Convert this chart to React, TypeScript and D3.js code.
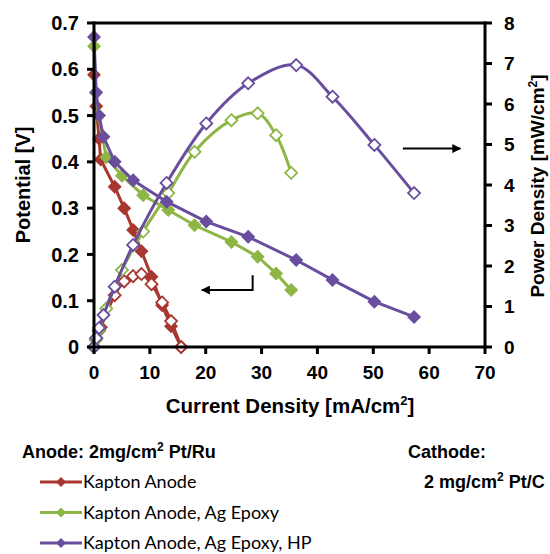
import React from "react";
import * as d3 from "d3";

// Kapton Anode
const redI = [0, 0.4, 0.9, 1.2, 3.7, 5.4, 7.0, 8.5, 10.3, 12.2, 13.8, 15.6];
const redV = [0.588, 0.52, 0.45, 0.405, 0.346, 0.30, 0.253, 0.207, 0.152, 0.09, 0.045, 0.0];
const redP = [0, 0.21, 0.4, 0.49, 1.28, 1.62, 1.75, 1.8, 1.55, 1.1, 0.64, 0];

// Kapton Anode, Ag Epoxy
const greenI = [0, 0.3, 0.8, 2.2, 5.0, 8.8, 13.3, 18.0, 24.6, 29.3, 32.6, 35.3];
const greenV = [0.65, 0.55, 0.50, 0.41, 0.37, 0.328, 0.296, 0.263, 0.227, 0.195, 0.159, 0.123];
const greenP = [0, 0.17, 0.4, 0.95, 1.9, 2.85, 3.8, 4.82, 5.6, 5.77, 5.23, 4.3];

// Kapton Anode, Ag Epoxy, HP
const purpleI = [0, 0.4, 0.9, 1.7, 3.7, 7.0, 13.0, 20.1, 27.6, 36.2, 42.7, 50.2, 57.3];
const purpleV = [0.67, 0.55, 0.5, 0.454, 0.4, 0.36, 0.314, 0.271, 0.238, 0.188, 0.145, 0.098, 0.065];
const purpleP = [0, 0.22, 0.47, 0.79, 1.49, 2.52, 4.05, 5.52, 6.51, 6.96, 6.18, 4.99, 3.8];

const xTicks = [0, 10, 20, 30, 40, 50, 60, 70];
const yLeftTicks = [0, 0.1, 0.2, 0.3, 0.4, 0.5, 0.6, 0.7];
const yRightTicks = [0, 1, 2, 3, 4, 5, 6, 7, 8];

const legendLabels = ["Kapton Anode", "Kapton Anode, Ag Epoxy", "Kapton Anode, Ag Epoxy, HP"];
const colors = ["#A8372F", "#8DB646", "#6A4E9E"];

const series = [
  { I: redI, V: redV, P: redP },
  { I: greenI, V: greenV, P: greenP },
  { I: purpleI, V: purpleV, P: purpleP },
];

const W = 550, H = 554;
const left = 94, right = 485, top = 23, bottom = 347;

const x = d3.scaleLinear().domain([0, 70]).range([left, right]);
const yL = d3.scaleLinear().domain([0, 0.7]).range([bottom, top]);
const yR = d3.scaleLinear().domain([0, 8]).range([bottom, top]);

const diamond = (r: number) => `M0,${-r}L${r},0L0,${r}L${-r},0Z`;
const bold = "'Liberation Sans', Arial, sans-serif";
const legendFont = "Lato, 'Open Sans', sans-serif";

export default function App() {
  const lineV = d3.line<[number, number]>().x(d => x(d[0])).y(d => yL(d[1]));
  const lineP = d3.line<[number, number]>().x(d => x(d[0])).y(d => yR(d[1])).curve(d3.curveCatmullRom.alpha(0.5));

  return (
    <svg width={W} height={H} style={{ position: "absolute", left: 0, top: 0, background: "#fff" }}>
      {series.map((s, k) => {
        const vPts = s.I.map((v, i) => [v, s.V[i]] as [number, number]);
        const pPts = s.I.map((v, i) => [v, s.P[i]] as [number, number]);
        return (
          <g key={k}>
            <path d={lineV(vPts) || ""} fill="none" stroke={colors[k]} strokeWidth={3} />
            {vPts.map((p, i) => (
              <path key={"v" + i} d={diamond(7)} transform={`translate(${x(p[0])},${yL(p[1])})`} fill={colors[k]} />
            ))}
            <path d={lineP(pPts) || ""} fill="none" stroke={colors[k]} strokeWidth={3} />
            {pPts.map((p, i) => (
              <path key={"p" + i} d={diamond(6)} transform={`translate(${x(p[0])},${yR(p[1])})`} fill="#fff" stroke={colors[k]} strokeWidth={1.8} />
            ))}
          </g>
        );
      })}

      {/* frame */}
      <line x1={left} x2={right} y1={top} y2={top} stroke="#000" strokeWidth={3} />
      <line x1={left} x2={left} y1={top - 1.5} y2={bottom + 1.5} stroke="#000" strokeWidth={3} />
      <line x1={right} x2={right} y1={top - 1.5} y2={bottom + 1.5} stroke="#000" strokeWidth={3} />
      <line x1={left} x2={right} y1={bottom} y2={bottom} stroke="#000" strokeWidth={3} />

      {yLeftTicks.map(t => (
        <g key={"l" + t}>
          <line x1={left - 7} x2={left} y1={yL(t)} y2={yL(t)} stroke="#000" strokeWidth={3} />
          <text x={left - 15} y={yL(t)} dy="0.36em" textAnchor="end" fontFamily={bold} fontWeight="bold" fontSize={20}>
            {t === 0 ? "0" : d3.format(".1f")(t)}
          </text>
        </g>
      ))}
      {yRightTicks.map(t => (
        <g key={"r" + t}>
          <line x1={right} x2={right + 7} y1={yR(t)} y2={yR(t)} stroke="#000" strokeWidth={3} />
          <text x={right + 19} y={yR(t)} dy="0.36em" textAnchor="start" fontFamily={bold} fontWeight="bold" fontSize={19}>
            {t}
          </text>
        </g>
      ))}
      {xTicks.map(t => (
        <g key={"b" + t}>
          <line x1={x(t)} x2={x(t)} y1={bottom} y2={bottom + 7} stroke="#000" strokeWidth={3} />
          <text x={x(t)} y={379} textAnchor="middle" fontFamily={bold} fontWeight="bold" fontSize={19}>
            {t}
          </text>
        </g>
      ))}

      <text x={290} y={413} textAnchor="middle" fontFamily={bold} fontWeight="bold" fontSize={20.5}>
        Current Density [mA/cm<tspan fontSize={13} dy={-8}>2</tspan><tspan dy={8}>]</tspan>
      </text>
      <text transform="translate(30,185) rotate(-90)" textAnchor="middle" fontFamily={bold} fontWeight="bold" fontSize={20}>
        Potential [V]
      </text>
      <text transform="translate(544,186) rotate(-90)" textAnchor="middle" fontFamily={bold} fontWeight="bold" fontSize={19}>
        Power Density [mW/cm<tspan fontSize={12} dy={-7}>2</tspan><tspan dy={7}>]</tspan>
      </text>

      <defs>
        <marker id="ah" viewBox="0 0 10 10" refX="9" refY="5" markerWidth="9" markerHeight="9" markerUnits="userSpaceOnUse" orient="auto">
          <path d="M0,0L10,5L0,10Z" fill="#000" />
        </marker>
      </defs>
      <line x1={x(55.3)} x2={x(65.6)} y1={yR(4.9)} y2={yR(4.9)} stroke="#000" strokeWidth={2} markerEnd="url(#ah)" />
      <polyline
        points={`${x(28.4)},${yL(0.155)} ${x(28.4)},${yL(0.123)} ${x(19.3)},${yL(0.123)}`}
        fill="none" stroke="#000" strokeWidth={2} markerEnd="url(#ah)"
      />

      <text x={22} y={458} fontFamily={bold} fontWeight="bold" fontSize={18}>
        Anode: 2mg/cm<tspan fontSize={12} dy={-7}>2</tspan><tspan dy={7}> Pt/Ru</tspan>
      </text>
      {legendLabels.map((lab, k) => {
        const yy = 482 + k * 30.5;
        return (
          <g key={lab}>
            <line x1={40} x2={82} y1={yy} y2={yy} stroke={colors[k]} strokeWidth={3} />
            <path d={diamond(5)} transform={`translate(61,${yy})`} fill={colors[k]} />
            <text x={83} y={yy} dy="0.35em" fontFamily={legendFont} fontSize={18}>{lab}</text>
          </g>
        );
      })}
      <text x={408} y={458} fontFamily={bold} fontWeight="bold" fontSize={18}>Cathode:</text>
      <text x={424} y={488} fontFamily={bold} fontWeight="bold" fontSize={18}>
        2 mg/cm<tspan fontSize={12} dy={-7}>2</tspan><tspan dy={7}> Pt/C</tspan>
      </text>
    </svg>
  );
}
